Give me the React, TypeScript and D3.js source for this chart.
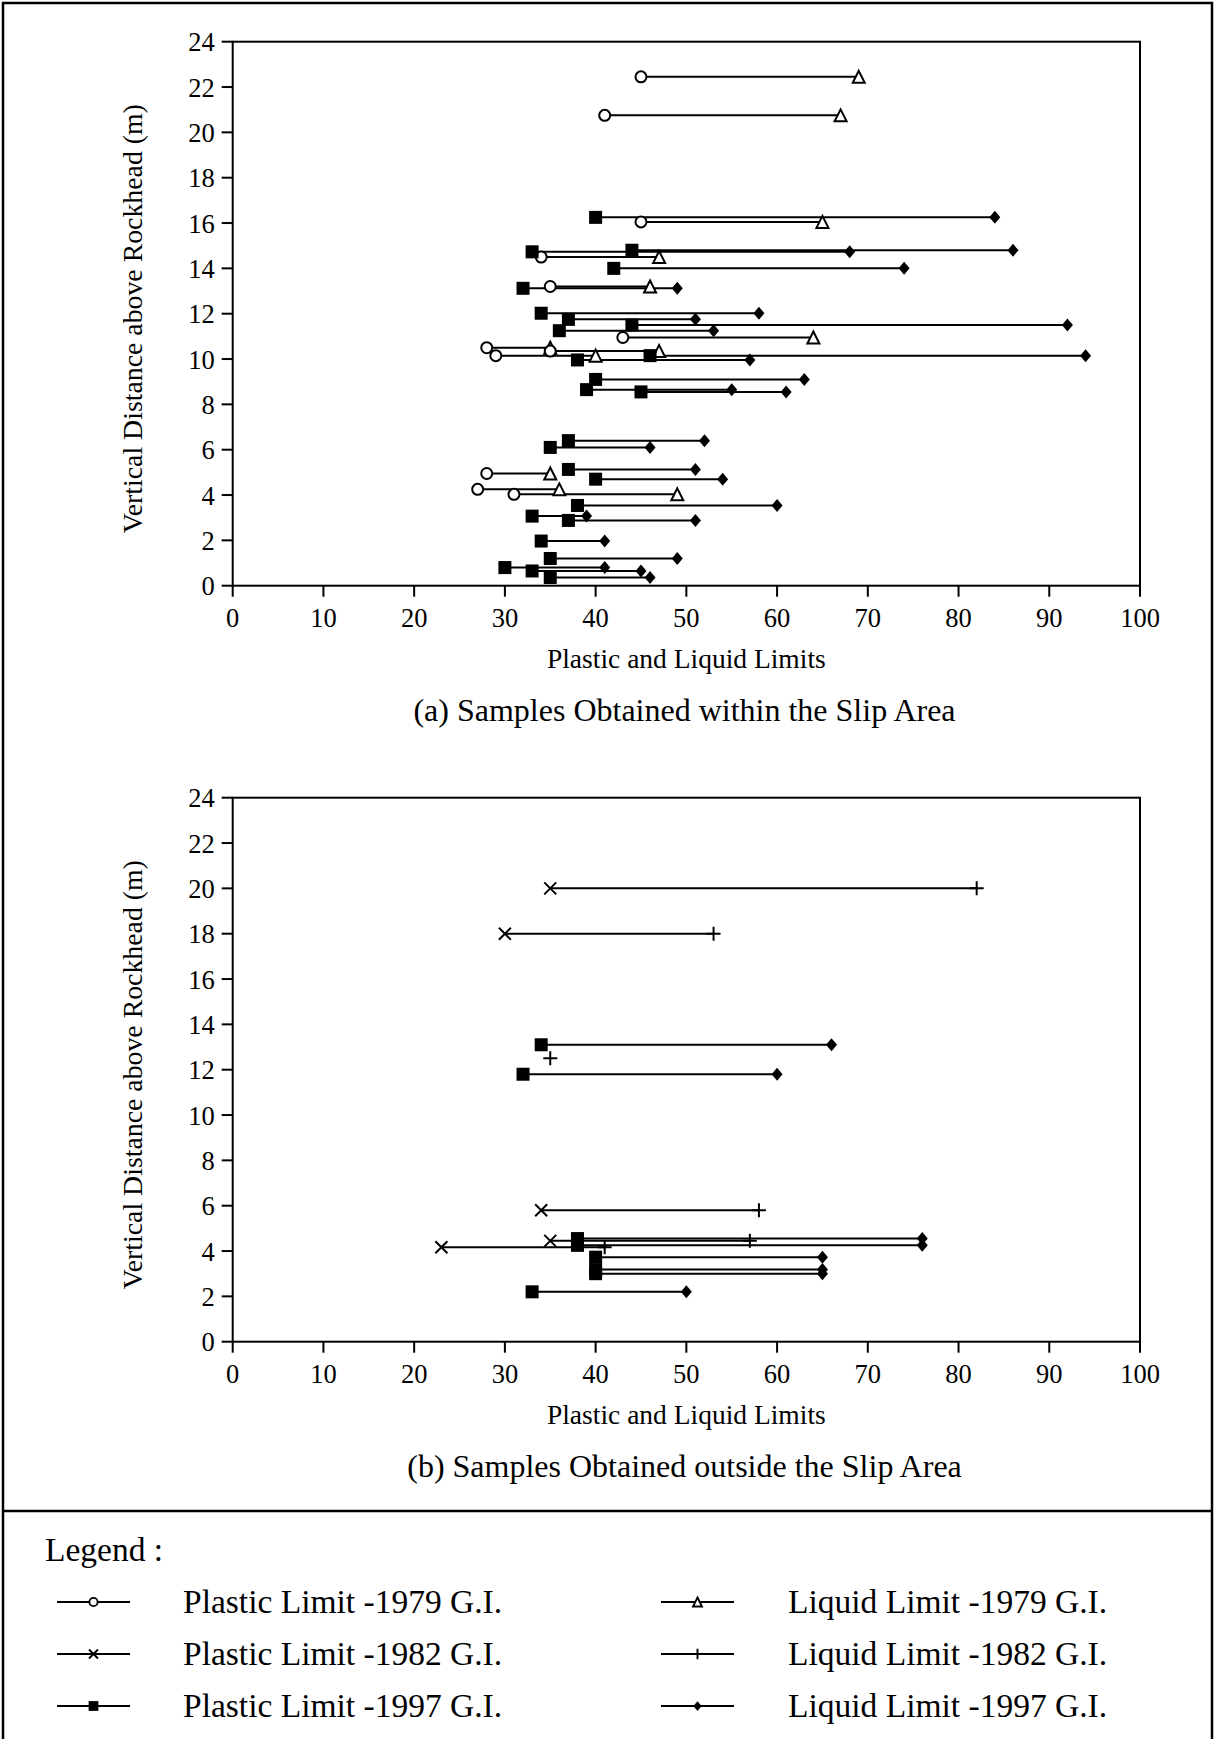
import React from "react";
import * as d3 from "d3";

// ---------- data ----------
const xTickValues = [0, 10, 20, 30, 40, 50, 60, 70, 80, 90, 100];
const yTickValues = [0, 2, 4, 6, 8, 10, 12, 14, 16, 18, 20, 22, 24];

// Panel (a) – within slip area
const depthA1979 = [22.45, 20.75, 16.05, 14.5, 13.2, 10.95, 10.5, 10.35, 10.15, 4.95, 4.25, 4.03];
const plA1979 = [45, 41, 45, 34, 35, 43, 28, 35, 29, 28, 27, 31];
const llA1979 = [69, 67, 65, 47, 46, 64, 35, 47, 40, 35, 36, 49];

const depthA1997 = [16.25, 14.8, 14.73, 14.0, 13.12, 12.02, 11.75, 11.5, 11.25, 10.15, 9.96, 9.1, 8.65, 8.55, 6.4, 6.1, 5.13, 4.7, 3.54, 3.07, 2.88, 1.97, 1.2, 0.8, 0.65, 0.36];
const plA1997 = [40, 44, 33, 42, 32, 34, 37, 44, 36, 46, 38, 40, 39, 45, 37, 35, 37, 40, 38, 33, 37, 34, 35, 30, 33, 35];
const llA1997 = [84, 86, 68, 74, 49, 58, 51, 92, 53, 94, 57, 63, 55, 61, 52, 46, 51, 54, 60, 39, 51, 41, 49, 41, 45, 46];

// Panel (b) – outside slip area
const depthB1982 = [20, 18, 12.5, 5.8, 4.45, 4.17];
const plB1982: (number | null)[] = [35, 30, null, 34, 35, 23];
const llB1982 = [82, 53, 35, 58, 57, 41];

const depthB1997 = [13.1, 11.8, 4.55, 4.25, 3.73, 3.18, 3.0, 2.2];
const plB1997 = [34, 32, 38, 38, 40, 40, 40, 33];
const llB1997 = [66, 60, 76, 76, 65, 65, 65, 50];

const legendLeft = ["Plastic Limit -1979 G.I.", "Plastic Limit -1982 G.I.", "Plastic Limit -1997 G.I."];
const legendRight = ["Liquid Limit -1979 G.I.", "Liquid Limit -1982 G.I.", "Liquid Limit -1997 G.I."];

// ---------- layout ----------
const W = 1215;
const H = 1739;
const FONT = "'Liberation Serif', 'Times New Roman', serif";
const PLOT_L = 232.7;
const PLOT_R = 1140;
const PLOT_H = 544;

type Kind = "circle" | "triangle" | "square" | "diamond" | "x" | "plus";

function Marker({ kind, cx, cy, s = 1 }: { kind: Kind; cx: number; cy: number; s?: number }) {
  const sw = 2 * Math.min(1, s + 0.2);
  switch (kind) {
    case "circle":
      return <circle cx={cx} cy={cy} r={5.5 * s} fill="#fff" stroke="#000" strokeWidth={sw} />;
    case "triangle": {
      const hw = 6 * s, hh = 6 * s;
      return (
        <path d={`M${cx},${cy - hh}L${cx + hw},${cy + hh}L${cx - hw},${cy + hh}Z`} fill="#fff" stroke="#000" strokeWidth={sw} />
      );
    }
    case "square": {
      const h = 6.5 * s;
      return <rect x={cx - h} y={cy - h} width={2 * h} height={2 * h} fill="#000" />;
    }
    case "diamond": {
      const hw = 5.5 * s, hh = 6.5 * s;
      return <path d={`M${cx},${cy - hh}L${cx + hw},${cy}L${cx},${cy + hh}L${cx - hw},${cy}Z`} fill="#000" />;
    }
    case "x": {
      const h = 6 * s;
      return (
        <path d={`M${cx - h},${cy - h}L${cx + h},${cy + h}M${cx - h},${cy + h}L${cx + h},${cy - h}`} stroke="#000" strokeWidth={sw} fill="none" />
      );
    }
    case "plus": {
      const h = 7 * s;
      return (
        <path d={`M${cx - h},${cy}L${cx + h},${cy}M${cx},${cy - h}L${cx},${cy + h}`} stroke="#000" strokeWidth={sw} fill="none" />
      );
    }
  }
  return null;
}

type Series = { depth: number[]; pl: (number | null)[]; ll: number[]; plKind: Kind; llKind: Kind };

function Panel({ top, series, caption }: { top: number; series: Series[]; caption: string }) {
  const x = d3.scaleLinear().domain([0, 100]).range([PLOT_L, PLOT_R]);
  const y = d3.scaleLinear().domain([0, 24]).range([top + PLOT_H, top]);
  const bottom = top + PLOT_H;
  const cxm = (PLOT_L + PLOT_R) / 2;
  return (
    <g>
      <rect x={PLOT_L} y={top} width={PLOT_R - PLOT_L} height={PLOT_H} fill="none" stroke="#000" strokeWidth={2} />
      {yTickValues.map((t) => (
        <g key={"y" + t}>
          <line x1={PLOT_L - 11} x2={PLOT_L} y1={y(t)} y2={y(t)} stroke="#000" strokeWidth={2} />
          <text x={PLOT_L - 18} y={y(t) + 9.5} textAnchor="end" fontSize={26.5} fontFamily={FONT}>
            {t}
          </text>
        </g>
      ))}
      {xTickValues.map((t) => (
        <g key={"x" + t}>
          <line x1={x(t)} x2={x(t)} y1={bottom} y2={bottom + 11} stroke="#000" strokeWidth={2} />
          <text x={x(t)} y={bottom + 41} textAnchor="middle" fontSize={26.5} fontFamily={FONT}>
            {t}
          </text>
        </g>
      ))}
      <text x={cxm} y={bottom + 82.5} textAnchor="middle" fontSize={27.5} fontFamily={FONT}>
        Plastic and Liquid Limits
      </text>
      <text x={684.5} y={bottom + 135.5} textAnchor="middle" fontSize={32} fontFamily={FONT}>
        {caption}
      </text>
      <text
        transform={`translate(142,${(top + bottom) / 2 + 5}) rotate(-90)`}
        textAnchor="middle"
        fontSize={27.8}
        fontFamily={FONT}
      >
        Vertical Distance above Rockhead (m)
      </text>
      {series.map((s, si) =>
        s.depth.map((d, i) =>
          s.pl[i] == null ? null : (
            <line key={`l${si}-${i}`} x1={x(s.pl[i] as number)} x2={x(s.ll[i])} y1={y(d)} y2={y(d)} stroke="#000" strokeWidth={2} />
          )
        )
      )}
      {series.map((s, si) =>
        s.depth.map((d, i) => (
          <g key={`m${si}-${i}`}>
            {s.pl[i] != null && <Marker kind={s.plKind} cx={x(s.pl[i] as number)} cy={y(d)} />}
            <Marker kind={s.llKind} cx={x(s.ll[i])} cy={y(d)} />
          </g>
        ))
      )}
    </g>
  );
}

export default function App() {
  const seriesA: Series[] = [
    { depth: depthA1979, pl: plA1979, ll: llA1979, plKind: "circle", llKind: "triangle" },
    { depth: depthA1997, pl: plA1997, ll: llA1997, plKind: "square", llKind: "diamond" },
  ];
  const seriesB: Series[] = [
    { depth: depthB1982, pl: plB1982, ll: llB1982, plKind: "x", llKind: "plus" },
    { depth: depthB1997, pl: plB1997, ll: llB1997, plKind: "square", llKind: "diamond" },
  ];
  const leftKinds: Kind[] = ["circle", "x", "square"];
  const rightKinds: Kind[] = ["triangle", "plus", "diamond"];
  const rowY = [1602, 1654, 1706];
  return (
    <svg
      width={W}
      height={H}
      viewBox={`0 0 ${W} ${H}`}
      style={{ position: "absolute", left: 0, top: 0, background: "#fff" }}
    >
      <rect x={0} y={0} width={W} height={H} fill="#fff" />
      <path d={`M3,${H}V3H1212V${H}`} fill="none" stroke="#000" strokeWidth={2.5} />
      <line x1={3} x2={1212} y1={1511} y2={1511} stroke="#000" strokeWidth={2.5} />
      <Panel top={41.7} series={seriesA} caption="(a) Samples Obtained within the Slip Area" />
      <Panel top={797.7} series={seriesB} caption="(b) Samples Obtained outside the Slip Area" />
      <text x={45} y={1561} fontSize={33.5} fontFamily={FONT}>
        Legend :
      </text>
      {rowY.map((ry, i) => (
        <g key={"lg" + i}>
          <line x1={57} x2={130} y1={ry} y2={ry} stroke="#000" strokeWidth={2} />
          <Marker kind={leftKinds[i]} cx={93.5} cy={ry} s={0.75} />
          <text x={183} y={ry + 11} fontSize={33.5} fontFamily={FONT}>
            {legendLeft[i]}
          </text>
          <line x1={661} x2={734} y1={ry} y2={ry} stroke="#000" strokeWidth={2} />
          <Marker kind={rightKinds[i]} cx={697.5} cy={ry} s={0.75} />
          <text x={788} y={ry + 11} fontSize={33.5} fontFamily={FONT}>
            {legendRight[i]}
          </text>
        </g>
      ))}
    </svg>
  );
}
